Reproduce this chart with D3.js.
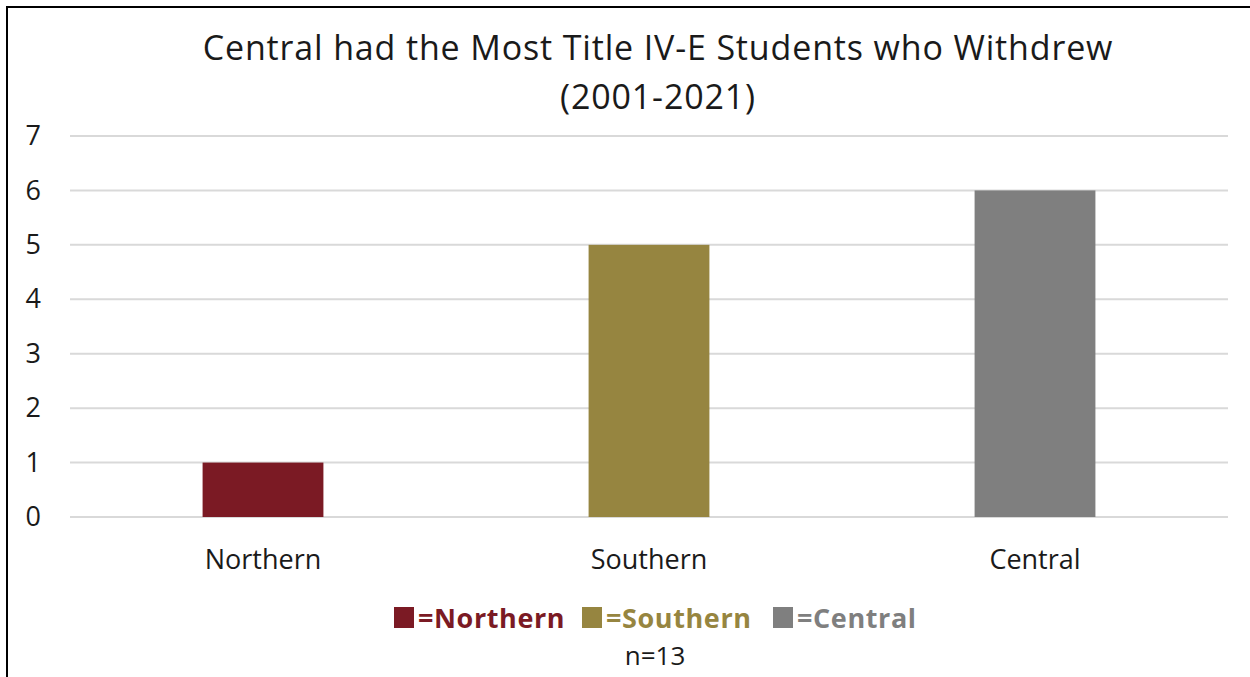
<!DOCTYPE html>
<html>
<head>
<meta charset="utf-8">
<script src="https://cdn.jsdelivr.net/npm/d3@7"></script>
<style>
  html, body { margin: 0; padding: 0; background: #fff; }
  svg { display: block; font-family: "Open Sans", "Noto Sans", sans-serif; }
</style>
</head>
<body>
<svg id="chart" width="1250" height="677"></svg>
<script>
// Withdrawals by region
const categories = ["Northern", "Southern", "Central"];
const values = [1, 5, 6];
const colors = ["#7B1A24", "#968540", "#7F7F7F"];
const yTicks = [0, 1, 2, 3, 4, 5, 6, 7];
const titleLines = ["Central had the Most Title IV-E Students who Withdrew", "(2001-2021)"];
const noteText = "n=13";

const W = 1250, H = 677;
const margin = { left: 70, right: 22 };
const svg = d3.select("#chart");
const FONT = "'Open Sans', 'Noto Sans', sans-serif";

// outer frame (top and left edges)
svg.append("path")
  .attr("d", `M7,${H} L7,7 L${W},7`)
  .attr("fill", "none").attr("stroke", "#000").attr("stroke-width", 2);

const x = d3.scaleBand().domain(categories)
  .range([margin.left, W - margin.right])
  .paddingInner(0.687).paddingOuter(0.3435);
const y = d3.scaleLinear().domain([0, 7]).range([517, 136]);

// gridlines
svg.append("g").selectAll("line").data(yTicks).join("line")
  .attr("x1", margin.left).attr("x2", W - margin.right)
  .attr("y1", d => y(d)).attr("y2", d => y(d))
  .attr("stroke", "#D9D9D9").attr("stroke-width", 2);

// y axis labels
const yAxis = d3.axisLeft(y).tickValues(yTicks).tickFormat(d3.format("d"))
  .tickSize(0).tickPadding(0);
const gy = svg.append("g").attr("transform", "translate(41,0)").call(yAxis);
gy.select(".domain").remove();
gy.selectAll("text").attr("font-size", 27).attr("fill", "#1a1a1a")
  .attr("font-family", FONT);

// bars
svg.append("g").selectAll("rect").data(categories).join("rect")
  .attr("x", d => x(d))
  .attr("width", x.bandwidth())
  .attr("y", (d, i) => y(values[i]))
  .attr("height", (d, i) => y(0) - y(values[i]))
  .attr("fill", (d, i) => colors[i]);

// x axis labels
const xAxis = d3.axisBottom(x).tickSize(0).tickPadding(0);
const gx = svg.append("g").attr("transform", "translate(0,550)").call(xAxis);
gx.select(".domain").remove();
gx.selectAll("text").attr("font-size", 27).attr("fill", "#1a1a1a")
  .attr("font-family", FONT);

// title
svg.append("g").selectAll("text").data(titleLines).join("text")
  .attr("x", 658).attr("y", (d, i) => 60 + i * 49)
  .attr("text-anchor", "middle")
  .attr("font-size", 34).attr("letter-spacing", 0.85).attr("fill", "#1a1a1a")
  .text(d => d);

// legend
const legendX = [394, 582, 773];
const lg = svg.append("g").selectAll("g").data(categories).join("g")
  .attr("transform", (d, i) => `translate(${legendX[i]},0)`);
lg.append("rect").attr("x", 0).attr("y", 607).attr("width", 20).attr("height", 21)
  .attr("fill", (d, i) => colors[i]);
lg.append("text").attr("x", 24).attr("y", 628)
  .attr("font-size", 27).attr("font-weight", "bold").attr("letter-spacing", 0.6)
  .attr("fill", (d, i) => colors[i])
  .text(d => "=" + d);

// sample size note
svg.append("text").attr("x", 655).attr("y", 665)
  .attr("text-anchor", "middle").attr("font-size", 26).attr("fill", "#1a1a1a")
  .text(noteText);
</script>
</body>
</html>
